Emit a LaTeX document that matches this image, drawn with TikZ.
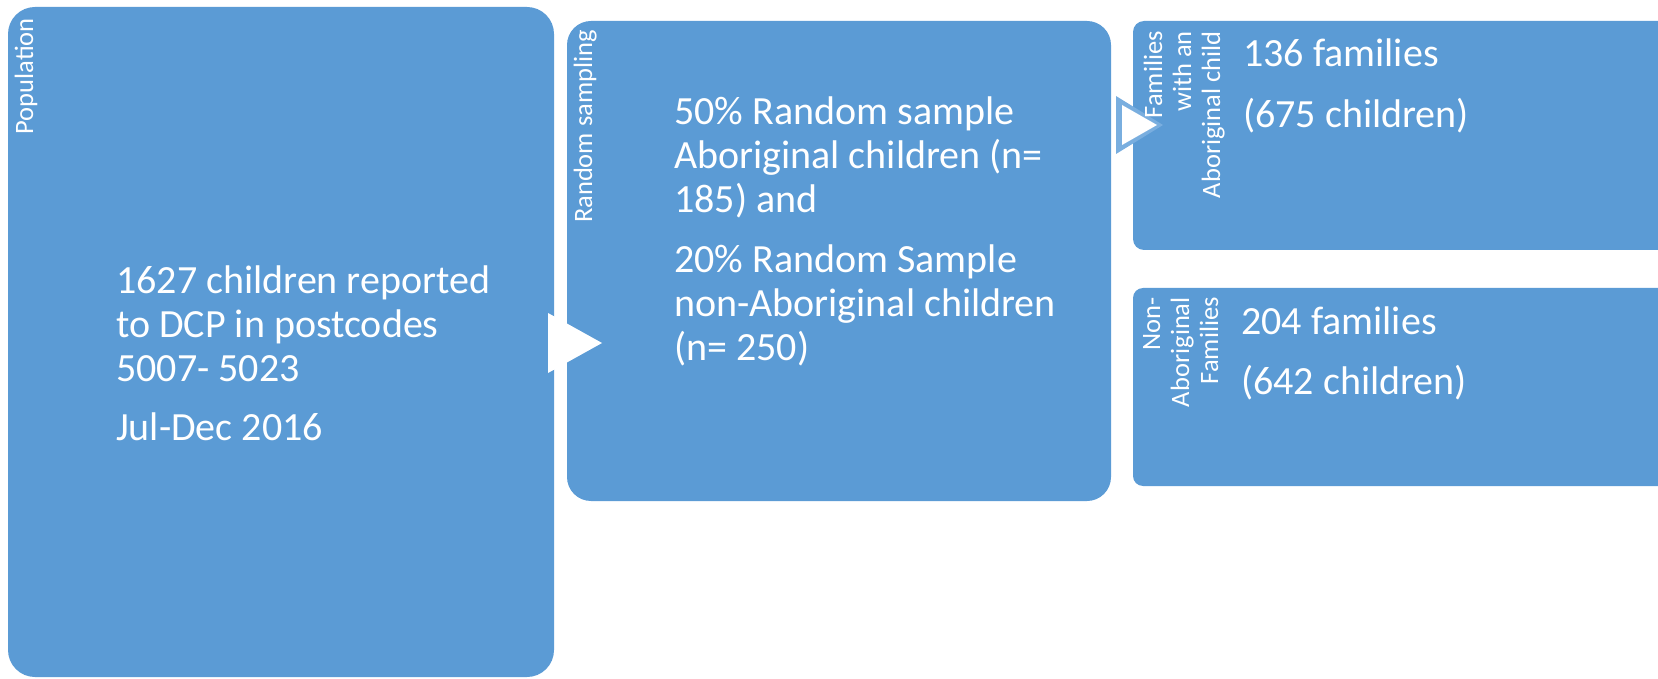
\documentclass[tikz,border=0pt]{standalone}
\usepackage{fontspec}
\setmainfont{Carlito}
\usetikzlibrary{calc}
\definecolor{sablue}{HTML}{5B9BD5}
\definecolor{triedge}{HTML}{79AEDF}
\begin{document}
\begin{tikzpicture}[x=1pt,y=-1pt,
  blk/.style={fill=sablue, draw=none, rectangle, inner sep=0pt},
  maintext/.style={text=white, align=left, inner sep=0pt, font=\fontsize{40}{44}\selectfont},
  lbl/.style={text=white, rotate=90, inner sep=0pt, font=\fontsize{26.5}{29}\selectfont, align=right}]
\useasboundingbox (0,0) rectangle (1658,679);
\clip (0,0) rectangle (1658,679);
% boxes
\node[blk, minimum width=546pt, minimum height=670pt, rounded corners=27pt] (pop) at (281,342) {};
\node[blk, minimum width=544pt, minimum height=480pt, rounded corners=24pt] (sam) at (839,261) {};
\node[blk, minimum width=567pt, minimum height=229pt, rounded corners=11pt] (fam) at (1416.5,135.5) {};
\node[blk, minimum width=567pt, minimum height=198pt, rounded corners=10pt] (non) at (1416.5,387) {};
% connectors (triangles)
\coordinate (t1a) at (548,313);
\coordinate (t1b) at (548,373);
\coordinate (t1c) at (602,343);
\fill[white] (t1a) -- (t1c) -- (t1b) -- cycle;
\coordinate (t2a) at (1116,96);
\coordinate (t2b) at (1116,154);
\coordinate (t2c) at (1163,125);
\coordinate (t2d) at (1122,105);
\coordinate (t2e) at (1122,145);
\coordinate (t2f) at (1157,125);
\fill[triedge] (t2a) -- (t2c) -- (t2b) -- cycle;
\fill[white] (t2d) -- (t2f) -- (t2e) -- cycle;
% rotated labels
\node[lbl, anchor=base east] (poplbl) at (33,18) {Population};
\node[lbl, anchor=base east] (samlbl) at (592,30) {Random sampling};
\node[lbl, anchor=north east] (famlbl) at (1143.5,31) {Families\\with an\\Aboriginal child};
\node[lbl, anchor=north east] (nonlbl) at (1143,297) {Non-\\Aboriginal\\Families};
% main texts
\node[maintext, anchor=north west] (poptxt) at (116,266) {1627 children reported\\to DCP in postcodes\\5007- 5023\\[15pt]Jul-Dec 2016};
\node[maintext, anchor=north west] (samtxt) at (674,96.4) {50\% Random sample\\Aboriginal children (n=\\185) and\\[16pt]20\% Random Sample\\non-Aboriginal children\\(n= 250)};
\node[maintext, anchor=north west] (famtxt) at (1243,38.5) {136 families\\[17pt](675 children)};
\node[maintext, anchor=north west] (nontxt) at (1241,306.5) {204 families\\[16pt](642 children)};
\end{tikzpicture}
\end{document}
